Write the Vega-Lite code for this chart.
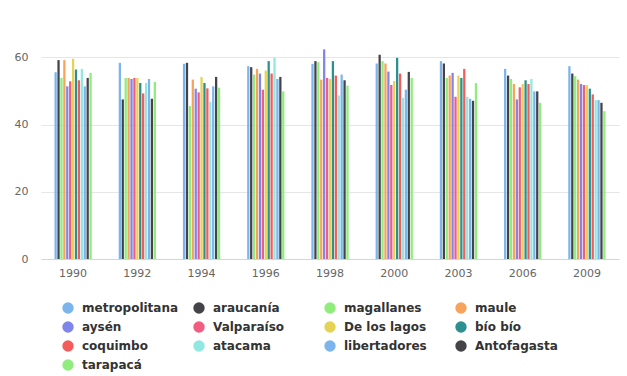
{
  "$schema": "https://vega.github.io/schema/vega-lite/v6.json",
  "autosize": "none",
  "width": 578,
  "height": 215,
  "padding": {"left": 41, "top": 44, "right": 8, "bottom": 117},
  "background": "#ffffff",
  "config": {
    "view": {"stroke": null},
    "font": "DejaVu Sans"
  },
  "data": {
    "values": [
      {"year": "1990", "region": "metropolitana", "value": 55.6},
      {"year": "1990", "region": "araucanía", "value": 59.2},
      {"year": "1990", "region": "magallanes", "value": 53.9},
      {"year": "1990", "region": "maule", "value": 59.2},
      {"year": "1990", "region": "aysén", "value": 51.4},
      {"year": "1990", "region": "Valparaíso", "value": 52.9},
      {"year": "1990", "region": "De los lagos", "value": 59.6},
      {"year": "1990", "region": "bío bío", "value": 56.4},
      {"year": "1990", "region": "coquimbo", "value": 53.2},
      {"year": "1990", "region": "atacama", "value": 56.6},
      {"year": "1990", "region": "libertadores", "value": 51.4},
      {"year": "1990", "region": "Antofagasta", "value": 53.9},
      {"year": "1990", "region": "tarapacá", "value": 55.4},

      {"year": "1992", "region": "metropolitana", "value": 58.4},
      {"year": "1992", "region": "araucanía", "value": 47.5},
      {"year": "1992", "region": "magallanes", "value": 53.9},
      {"year": "1992", "region": "maule", "value": 53.9},
      {"year": "1992", "region": "aysén", "value": 53.6},
      {"year": "1992", "region": "Valparaíso", "value": 53.9},
      {"year": "1992", "region": "De los lagos", "value": 53.9},
      {"year": "1992", "region": "bío bío", "value": 52.4},
      {"year": "1992", "region": "coquimbo", "value": 49.3},
      {"year": "1992", "region": "atacama", "value": 52.4},
      {"year": "1992", "region": "libertadores", "value": 53.6},
      {"year": "1992", "region": "Antofagasta", "value": 47.7},
      {"year": "1992", "region": "tarapacá", "value": 52.7},

      {"year": "1994", "region": "metropolitana", "value": 58.1},
      {"year": "1994", "region": "araucanía", "value": 58.4},
      {"year": "1994", "region": "magallanes", "value": 45.5},
      {"year": "1994", "region": "maule", "value": 53.4},
      {"year": "1994", "region": "aysén", "value": 50.7},
      {"year": "1994", "region": "Valparaíso", "value": 49.6},
      {"year": "1994", "region": "De los lagos", "value": 54.2},
      {"year": "1994", "region": "bío bío", "value": 52.4},
      {"year": "1994", "region": "coquimbo", "value": 50.8},
      {"year": "1994", "region": "atacama", "value": 46.8},
      {"year": "1994", "region": "libertadores", "value": 51.4},
      {"year": "1994", "region": "Antofagasta", "value": 54.2},
      {"year": "1994", "region": "tarapacá", "value": 51.0},

      {"year": "1996", "region": "metropolitana", "value": 57.4},
      {"year": "1996", "region": "araucanía", "value": 57.1},
      {"year": "1996", "region": "magallanes", "value": 54.9},
      {"year": "1996", "region": "maule", "value": 56.6},
      {"year": "1996", "region": "aysén", "value": 55.2},
      {"year": "1996", "region": "Valparaíso", "value": 50.4},
      {"year": "1996", "region": "De los lagos", "value": 56.1},
      {"year": "1996", "region": "bío bío", "value": 58.9},
      {"year": "1996", "region": "coquimbo", "value": 55.2},
      {"year": "1996", "region": "atacama", "value": 59.9},
      {"year": "1996", "region": "libertadores", "value": 53.6},
      {"year": "1996", "region": "Antofagasta", "value": 54.2},
      {"year": "1996", "region": "tarapacá", "value": 49.9},

      {"year": "1998", "region": "metropolitana", "value": 58.1},
      {"year": "1998", "region": "araucanía", "value": 58.9},
      {"year": "1998", "region": "magallanes", "value": 58.6},
      {"year": "1998", "region": "maule", "value": 53.4},
      {"year": "1998", "region": "aysén", "value": 62.4},
      {"year": "1998", "region": "Valparaíso", "value": 53.9},
      {"year": "1998", "region": "De los lagos", "value": 53.6},
      {"year": "1998", "region": "bío bío", "value": 58.9},
      {"year": "1998", "region": "coquimbo", "value": 54.6},
      {"year": "1998", "region": "atacama", "value": 48.7},
      {"year": "1998", "region": "libertadores", "value": 54.9},
      {"year": "1998", "region": "Antofagasta", "value": 53.2},
      {"year": "1998", "region": "tarapacá", "value": 51.6},

      {"year": "2000", "region": "metropolitana", "value": 58.2},
      {"year": "2000", "region": "araucanía", "value": 60.8},
      {"year": "2000", "region": "magallanes", "value": 58.9},
      {"year": "2000", "region": "maule", "value": 58.2},
      {"year": "2000", "region": "aysén", "value": 55.8},
      {"year": "2000", "region": "Valparaíso", "value": 51.8},
      {"year": "2000", "region": "De los lagos", "value": 53.0},
      {"year": "2000", "region": "bío bío", "value": 59.9},
      {"year": "2000", "region": "coquimbo", "value": 55.2},
      {"year": "2000", "region": "atacama", "value": 48.0},
      {"year": "2000", "region": "libertadores", "value": 50.4},
      {"year": "2000", "region": "Antofagasta", "value": 55.7},
      {"year": "2000", "region": "tarapacá", "value": 53.9},

      {"year": "2003", "region": "metropolitana", "value": 58.9},
      {"year": "2003", "region": "araucanía", "value": 58.2},
      {"year": "2003", "region": "magallanes", "value": 53.9},
      {"year": "2003", "region": "maule", "value": 54.6},
      {"year": "2003", "region": "aysén", "value": 55.4},
      {"year": "2003", "region": "Valparaíso", "value": 48.3},
      {"year": "2003", "region": "De los lagos", "value": 54.6},
      {"year": "2003", "region": "bío bío", "value": 53.9},
      {"year": "2003", "region": "coquimbo", "value": 56.6},
      {"year": "2003", "region": "atacama", "value": 48.3},
      {"year": "2003", "region": "libertadores", "value": 47.7},
      {"year": "2003", "region": "Antofagasta", "value": 47.1},
      {"year": "2003", "region": "tarapacá", "value": 52.4},

      {"year": "2006", "region": "metropolitana", "value": 56.6},
      {"year": "2006", "region": "araucanía", "value": 54.6},
      {"year": "2006", "region": "magallanes", "value": 53.6},
      {"year": "2006", "region": "maule", "value": 52.1},
      {"year": "2006", "region": "aysén", "value": 47.5},
      {"year": "2006", "region": "Valparaíso", "value": 51.1},
      {"year": "2006", "region": "De los lagos", "value": 52.1},
      {"year": "2006", "region": "bío bío", "value": 53.2},
      {"year": "2006", "region": "coquimbo", "value": 52.1},
      {"year": "2006", "region": "atacama", "value": 53.6},
      {"year": "2006", "region": "libertadores", "value": 49.9},
      {"year": "2006", "region": "Antofagasta", "value": 49.9},
      {"year": "2006", "region": "tarapacá", "value": 46.5},

      {"year": "2009", "region": "metropolitana", "value": 57.4},
      {"year": "2009", "region": "araucanía", "value": 55.2},
      {"year": "2009", "region": "magallanes", "value": 54.4},
      {"year": "2009", "region": "maule", "value": 53.4},
      {"year": "2009", "region": "aysén", "value": 52.1},
      {"year": "2009", "region": "Valparaíso", "value": 51.8},
      {"year": "2009", "region": "De los lagos", "value": 51.8},
      {"year": "2009", "region": "bío bío", "value": 50.7},
      {"year": "2009", "region": "coquimbo", "value": 49.0},
      {"year": "2009", "region": "atacama", "value": 47.3},
      {"year": "2009", "region": "libertadores", "value": 47.3},
      {"year": "2009", "region": "Antofagasta", "value": 46.5},
      {"year": "2009", "region": "tarapacá", "value": 44.0}
    ]
  },
  "mark": {"type": "bar", "cornerRadius": 0},
  "encoding": {
    "x": {
      "field": "year",
      "type": "nominal",
      "sort": null,
      "title": null,
      "scale": {"paddingInner": 0.42, "paddingOuter": 0.21},
      "axis": {
        "labelAngle": 0,
        "labelColor": "#666666",
        "labelFontSize": 11,
        "labelPadding": 8,
        "ticks": false,
        "domainColor": "#ccd6eb",
        "domainWidth": 1,
        "grid": false
      }
    },
    "xOffset": {
      "field": "region",
      "type": "nominal",
      "sort": ["metropolitana", "araucanía", "magallanes", "maule", "aysén", "Valparaíso", "De los lagos", "bío bío", "coquimbo", "atacama", "libertadores", "Antofagasta", "tarapacá"],
      "scale": {"paddingInner": 0.22}
    },
    "y": {
      "field": "value",
      "type": "quantitative",
      "title": null,
      "scale": {"domain": [0, 64], "nice": false, "zero": true},
      "axis": {
        "values": [0, 20, 40, 60],
        "labelColor": "#666666",
        "labelFontSize": 11,
        "labelPadding": 13,
        "ticks": false,
        "domain": false,
        "gridColor": "#e6e6e6",
        "gridWidth": 1
      }
    },
    "color": {
      "field": "region",
      "type": "nominal",
      "title": null,
      "scale": {
        "domain": ["metropolitana", "araucanía", "magallanes", "maule", "aysén", "Valparaíso", "De los lagos", "bío bío", "coquimbo", "atacama", "libertadores", "Antofagasta", "tarapacá"],
        "range": ["#7cb5ec", "#434348", "#90ed7d", "#f7a35c", "#8085e9", "#f15c80", "#e4d354", "#2b908f", "#f45b5b", "#91e8e1", "#7cb5ec", "#434348", "#90ed7d"]
      },
      "legend": {
        "orient": "none",
        "legendX": 21,
        "legendY": 258,
        "direction": "horizontal",
        "columns": 4,
        "gridAlign": "all",
        "columnPadding": 14,
        "rowPadding": 7,
        "symbolType": "circle",
        "symbolSize": 130,
        "symbolStrokeWidth": 0,
        "symbolOpacity": 1,
        "labelFont": "DejaVu Sans",
        "labelFontSize": 12,
        "labelFontWeight": "bold",
        "labelColor": "#333333",
        "labelOffset": 8,
        "labelLimit": 200
      }
    }
  }
}
